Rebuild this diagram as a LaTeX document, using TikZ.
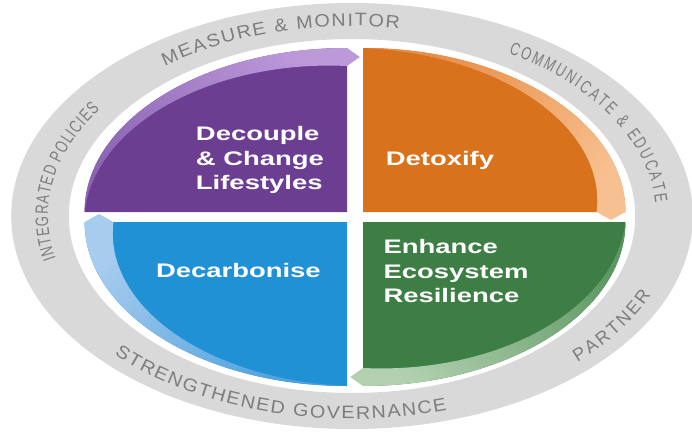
\documentclass[tikz,border=0pt]{standalone}
\usepackage{fontspec}
\setmainfont{Liberation Sans}
\newfontfamily\goalfont[FakeStretch=1.4]{Liberation Sans}
\newfontfamily\ringwide[FakeStretch=1.1]{Liberation Sans}
\newfontfamily\ringplain[FakeStretch=1.0]{Liberation Sans}
\newfontfamily\ringnarrow[FakeStretch=0.72]{Liberation Sans}
\newcommand\widering{\ringwide\fontsize{9}{10}\selectfont}
\newcommand\plainring{\ringplain\fontsize{9}{10}\selectfont}
\newcommand\narrowring{\ringnarrow\fontsize{9}{10}\selectfont}
\usetikzlibrary{decorations.text}

\definecolor{ringgrey}{RGB}{217,217,217}
\definecolor{captiongrey}{RGB}{125,125,125}
\definecolor{purpledark}{RGB}{108,62,146}
\definecolor{purplelo}{RGB}{140,100,180}
\definecolor{purplehi}{RGB}{188,154,218}
\definecolor{orangedark}{RGB}{216,114,28}
\definecolor{orangelo}{RGB}{232,140,70}
\definecolor{orangehi}{RGB}{247,192,144}
\definecolor{greendark}{RGB}{60,126,68}
\definecolor{greenlo}{RGB}{92,150,98}
\definecolor{greenhi}{RGB}{178,208,175}
\definecolor{bluedark}{RGB}{33,145,214}
\definecolor{bluelo}{RGB}{78,160,221}
\definecolor{bluehi}{RGB}{168,204,238}

\begin{document}
\begin{tikzpicture}[
	x=0.8pt, y=0.5pt,
	goal/.style = {
		text=white, align=left,
		font=\goalfont\bfseries\fontsize{9.8}{12.2}\selectfont
	},
	ringlabel/.style 2 args = {
		decorate,
		decoration={text along path, text={|#1|#2},
			text align=fit to path, text color=captiongrey}
	}
]

	\useasboundingbox (-220,-218) rectangle (212.5,216);

	\fill[ringgrey, even odd rule] (0,0) circle[radius=213] (0,0) circle[radius=177];

	\foreach \e/\dx/\dy/\dark/\lo/\hi in {
		90/-3.1/4/purpledark/purplelo/purplehi,
		0/6.9/4/orangedark/orangelo/orangehi,
		-90/6.9/-6/greendark/greenlo/greenhi,
		180/-3.1/-6/bluedark/bluelo/bluehi}{
		\begin{scope}[shift={(\dx,\dy)}]
			\pgfmathsetmacro\s{\e+90}
			\pgfmathsetmacro\a{\e-135}
			\fill[\dark] (0,0) -- (\e:164) arc[start angle=\e, end angle=\s, radius=164] -- cycle;
			\shade[bottom color=\lo, top color=\hi, shading angle=\a]
				(\s:164) arc[start angle=\s, end angle=\e, radius=164]
				-- ({155*cos(\e)+8*sin(\e)},{155*sin(\e)-8*cos(\e)})
				-- (\e:146)
				-- plot[domain=\e:\s, variable=\t, samples=40]
					({(164-18*(\s-\t)/90)*cos(\t)},{(164-18*(\s-\t)/90)*sin(\t)})
				-- cycle;
		\end{scope}
	}

	\node[goal] (decouple) at (-57.5,56) {Decouple\\\& Change\\Lifestyles};
	\node[goal] (detoxify) at (55,56) {Detoxify};
	\node[goal] (decarbonise) at (-71,-54) {Decarbonise};
	\node[goal] (enhance) at (65,-55) {Enhance\\Ecosystem\\Resilience};

	\path[ringlabel={\widering}{MEASURE {\&} MONITOR}]
		(128:190) arc[start angle=128, end angle=81, radius=190];
	\path[ringlabel={\narrowring}{COMMUNICATE {\&} EDUCATE}]
		(59:190) arc[start angle=59, end angle=4, radius=190];
	\path[ringlabel={\plainring}{PARTNER}]
		(-46:203) arc[start angle=-46, end angle=-23, radius=203];
	\path[ringlabel={\widering}{STRENGTHENED GOVERNANCE}]
		(-137:203) arc[start angle=-137, end angle=-73, radius=203];
	\path[ringlabel={\narrowring}{INTEGRATED POLICIES}]
		(193:190) arc[start angle=193, end angle=146, radius=190];
\end{tikzpicture}
\end{document}
